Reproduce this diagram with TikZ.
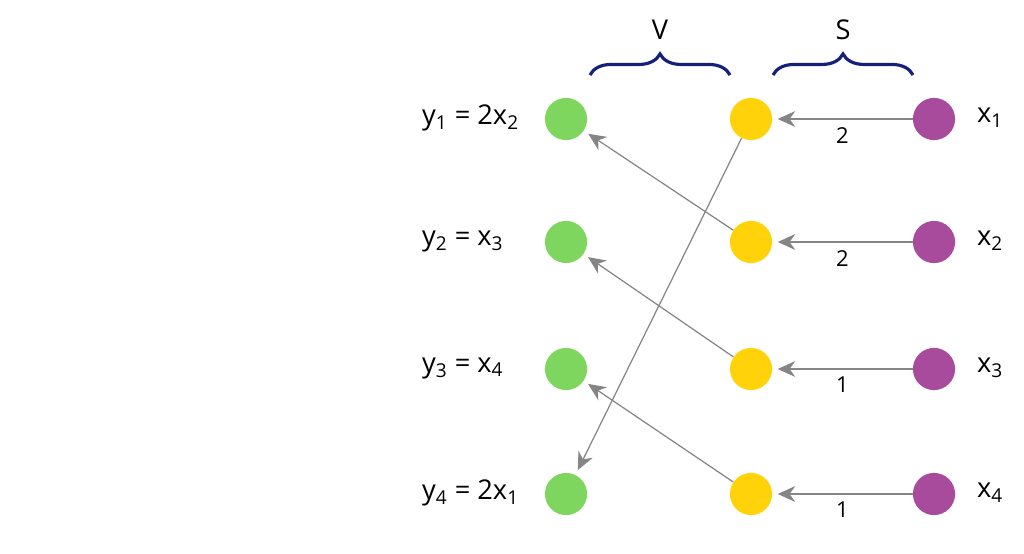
\documentclass[tikz,border=0pt]{standalone}
\usepackage{fontspec}
\setmainfont{Open Sans}
\usetikzlibrary{arrows.meta}
\usetikzlibrary{decorations.pathreplacing}
\definecolor{dotgreen}{HTML}{7ED65E}
\definecolor{dotyellow}{HTML}{FFD20A}
\definecolor{dotpurple}{HTML}{A84B9D}
\definecolor{bracenavy}{HTML}{14207A}
\definecolor{arrgray}{HTML}{858585}
\tikzset{
  dot/.style={circle,inner sep=0pt,minimum size=24pt},
  arr/.style={draw=arrgray,line width=0.7pt,-{Stealth[length=10pt,width=9pt]},shorten >=3pt},
  lbl/.style={anchor=west,font=\fontsize{15.5}{18}\selectfont},
  wt/.style={font=\fontsize{12.5}{14}\selectfont},
  grp/.style={decorate,decoration={brace,amplitude=12pt},draw=bracenavy,line width=1.8pt},
}
\begin{document}
\begin{tikzpicture}[x=0.02cm,y=-0.02cm]
      \useasboundingbox (0,0) rectangle (1024,554);
      % left column
      \node[dot,fill=dotgreen] (g1) at (566,119) {};
      \node[dot,fill=dotgreen] (g2) at (566,242) {};
      \node[dot,fill=dotgreen] (g3) at (566,369) {};
      \node[dot,fill=dotgreen] (g4) at (566,494) {};
      % middle column
      \node[dot,fill=dotyellow] (m1) at (751,119) {};
      \node[dot,fill=dotyellow] (m2) at (751,242) {};
      \node[dot,fill=dotyellow] (m3) at (751,369) {};
      \node[dot,fill=dotyellow] (m4) at (751,494) {};
      % right column
      \node[dot,fill=dotpurple] (p1) at (934,119) {};
      \node[dot,fill=dotpurple] (p2) at (934,242) {};
      \node[dot,fill=dotpurple] (p3) at (934,369) {};
      \node[dot,fill=dotpurple] (p4) at (934,494) {};
      % labels
      \node[lbl] (ly1) at (416,118) {y\textsubscript{1} = 2x\textsubscript{2}};
      \node[lbl] (ly2) at (416,241) {y\textsubscript{2} = x\textsubscript{3}};
      \node[lbl] (ly3) at (416,368) {y\textsubscript{3} = x\textsubscript{4}};
      \node[lbl] (ly4) at (416,493) {y\textsubscript{4} = 2x\textsubscript{1}};
      \node[lbl] (lx1) at (971,118) {x\textsubscript{1}};
      \node[lbl] (lx2) at (971,241) {x\textsubscript{2}};
      \node[lbl] (lx3) at (971,368) {x\textsubscript{3}};
      \node[lbl] (lx4) at (971,493) {x\textsubscript{4}};
      % S edges
      \draw[arr] (p1) -- (m1) node[wt,midway,below=1pt] {2};
      \draw[arr] (p2) -- (m2) node[wt,midway,below=1pt] {2};
      \draw[arr] (p3) -- (m3) node[wt,midway,below=1pt] {1};
      \draw[arr] (p4) -- (m4) node[wt,midway,below=1pt] {1};
      % V edges
      \draw[arr] (m2) -- (g1);
      \draw[arr] (m3) -- (g2);
      \draw[arr] (m4) -- (g3);
      \draw[arr] (m1) -- (g4);
      % braces
      \draw[grp] (590,75) -- (730,75) node[midway,above=16pt,lbl,anchor=south] (V) {V};
      \draw[grp] (773,75) -- (913,75) node[midway,above=16pt,lbl,anchor=south] (S) {S};
    \end{tikzpicture}
\end{document}
